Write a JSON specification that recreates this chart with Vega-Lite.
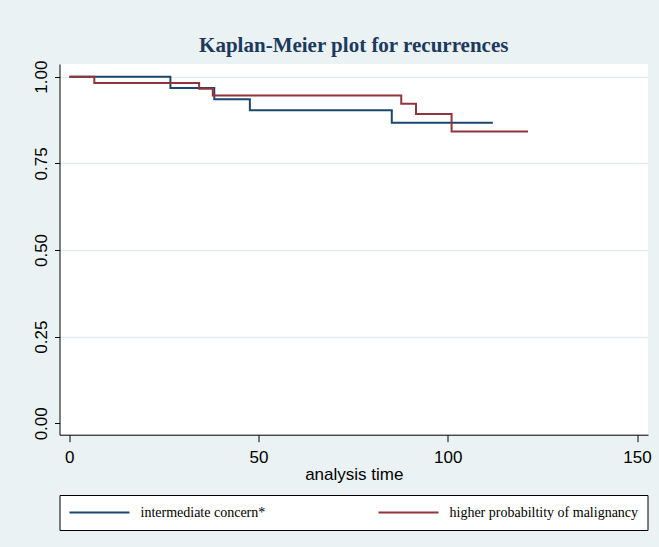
{
  "$schema": "https://vega.github.io/schema/vega-lite/v6.json",
  "autosize": "none",
  "padding": {"left": 59.5, "top": 64, "right": 11, "bottom": 112.3},
  "width": 588.5,
  "height": 370.7,
  "background": "#eaf2f3",
  "title": {
    "text": "Kaplan-Meier plot for recurrences",
    "font": "Liberation Serif",
    "fontSize": 21,
    "fontWeight": "bold",
    "color": "#1c3a5e",
    "anchor": "middle",
    "offset": 4
  },
  "data": {
    "values": [
      {"time": 0, "survival": 1.0, "group": "intermediate concern*"},
      {"time": 26.7, "survival": 0.967, "group": "intermediate concern*"},
      {"time": 38.3, "survival": 0.935, "group": "intermediate concern*"},
      {"time": 47.7, "survival": 0.903, "group": "intermediate concern*"},
      {"time": 85.2, "survival": 0.867, "group": "intermediate concern*"},
      {"time": 111.9, "survival": 0.867, "group": "intermediate concern*"},
      {"time": 0, "survival": 1.0, "group": "higher probabiltity of malignancy"},
      {"time": 6.6, "survival": 0.982, "group": "higher probabiltity of malignancy"},
      {"time": 34.3, "survival": 0.965, "group": "higher probabiltity of malignancy"},
      {"time": 37.9, "survival": 0.946, "group": "higher probabiltity of malignancy"},
      {"time": 87.7, "survival": 0.922, "group": "higher probabiltity of malignancy"},
      {"time": 91.6, "survival": 0.892, "group": "higher probabiltity of malignancy"},
      {"time": 101.0, "survival": 0.842, "group": "higher probabiltity of malignancy"},
      {"time": 121.2, "survival": 0.842, "group": "higher probabiltity of malignancy"}
    ]
  },
  "mark": {"type": "line", "interpolate": "step-after", "strokeWidth": 2, "clip": true},
  "encoding": {
    "x": {
      "field": "time",
      "type": "quantitative",
      "scale": {"domain": [-2.6, 152.9], "nice": false, "zero": false},
      "axis": {
        "values": [0, 50, 100, 150],
        "title": "analysis time",
        "grid": false,
        "domainColor": "#000000",
        "tickColor": "#000000",
        "tickSize": 7,
        "labelFont": "Liberation Sans",
        "labelFontSize": 17,
        "labelColor": "#000000",
        "labelPadding": 8,
        "titleFont": "Liberation Sans",
        "titleFontSize": 17,
        "titleFontWeight": "normal",
        "titleColor": "#000000",
        "titlePadding": 1,
        "labelFlush": false
      }
    },
    "y": {
      "field": "survival",
      "type": "quantitative",
      "scale": {"domain": [-0.0329, 1.0366], "nice": false, "zero": false},
      "axis": {
        "values": [0, 0.25, 0.5, 0.75, 1],
        "format": ".2f",
        "title": null,
        "grid": true,
        "gridColor": "#e2ebee",
        "gridWidth": 1.5,
        "gridOpacity": {"condition": {"test": "datum.value === 0", "value": 0}, "value": 1},
        "domainColor": "#000000",
        "tickColor": "#000000",
        "tickSize": 5,
        "labelAngle": -90,
        "labelAlign": "center",
        "labelBaseline": "bottom",
        "labelFont": "Liberation Sans",
        "labelFontSize": 17,
        "labelColor": "#000000",
        "labelPadding": 4,
        "labelFlush": false
      }
    },
    "color": {
      "field": "group",
      "type": "nominal",
      "sort": ["intermediate concern*", "higher probabiltity of malignancy"],
      "scale": {
        "domain": ["intermediate concern*", "higher probabiltity of malignancy"],
        "range": ["#1a476f", "#90353b"]
      },
      "legend": {
        "title": null,
        "orient": "bottom",
        "direction": "horizontal",
        "columns": 2,
        "symbolType": "stroke",
        "symbolSize": 3600,
        "symbolStrokeWidth": 2,
        "clipHeight": 17,
        "labelFont": "Liberation Serif",
        "labelFontSize": 14,
        "labelColor": "#000000",
        "labelOffset": 10,
        "labelLimit": 400,
        "columnPadding": 112,
        "padding": 9,
        "fillColor": "#ffffff",
        "strokeColor": "#000000",
        "offset": 12
      }
    }
  },
  "config": {
    "view": {"fill": "#ffffff", "stroke": null}
  }
}
